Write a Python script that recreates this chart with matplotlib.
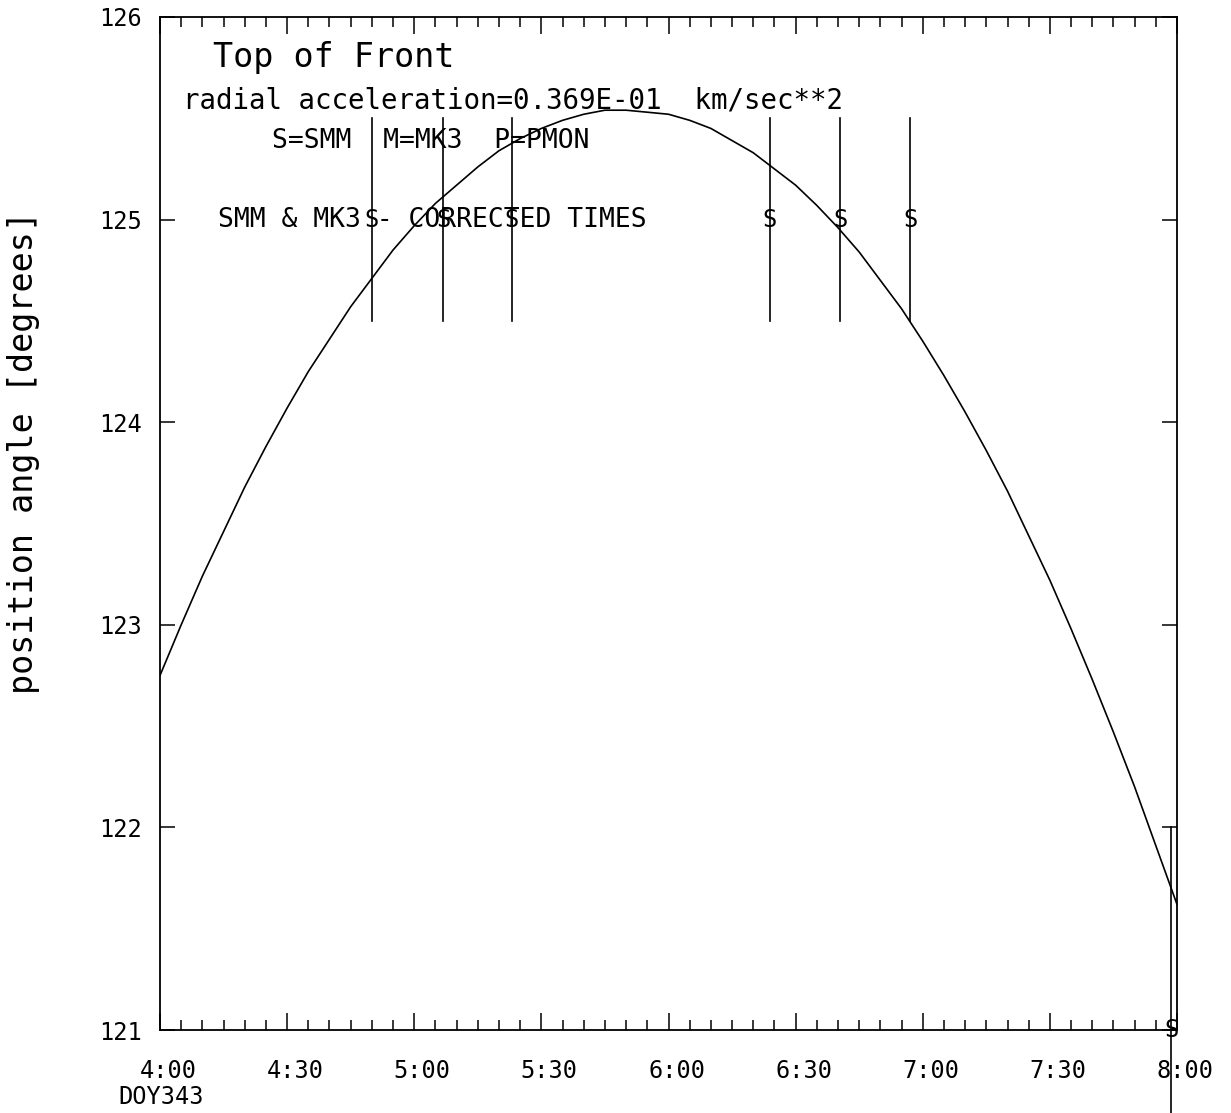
"""
Top of Front position angle vs time, DOY343, with SMM / MK3 observation marks.
"""

import matplotlib
matplotlib.use("Agg")
import matplotlib.pyplot as plt
import matplotlib.ticker as mticker
import matplotlib.transforms as mtransforms

MONO = "DejaVu Sans Mono"

# fitted curve, every 5 minutes, minutes after 4:00
curve_min = [0, 5, 10, 15, 20, 25, 30, 35, 40, 45, 50, 55, 60, 65, 70, 75,
             80, 85, 90, 95, 100, 105, 110, 115, 120, 125, 130, 135, 140,
             145, 150, 155, 160, 165, 170, 175, 180, 185, 190, 195, 200,
             205, 210, 215, 220, 225, 230, 235, 240]
curve_pa = [122.75, 123.00, 123.24, 123.46, 123.68, 123.88, 124.07, 124.25,
            124.41, 124.57, 124.71, 124.85, 124.97, 125.08, 125.17, 125.26,
            125.34, 125.40, 125.45, 125.49, 125.52, 125.54, 125.54, 125.53,
            125.52, 125.49, 125.45, 125.39, 125.33, 125.25, 125.17, 125.07,
            124.96, 124.84, 124.70, 124.56, 124.40, 124.23, 124.05, 123.86,
            123.66, 123.44, 123.22, 122.98, 122.73, 122.47, 122.20, 121.91,
            121.62]

# observation times (SMM), drawn as marker lines
obs_clock = ["4:50", "5:06.8", "5:23", "6:23.9", "6:40.5", "6:57", "7:58.6"]
obs_low = [124.5, 124.5, 124.5, 124.5, 124.5, 124.5, 120.0]
obs_high = [125.5, 125.5, 125.5, 125.5, 125.5, 125.5, 122.0]
obs_sym = ["S", "S", "S", "S", "S", "S", "S"]
obs_sym_y = [125.0, 125.0, 125.0, 125.0, 125.0, 125.0, 121.0]


def to_hours(s):
    h, m = s.split(":")
    return int(h) + float(m) / 60.0


def hm_fmt(x, _):
    h = int(x + 1e-9)
    m = int(round((x - h) * 60))
    return f"{h}:{m:02d}"


curve_t = [4.0 + m / 60.0 for m in curve_min]
obs_t = [to_hours(s) for s in obs_clock]

fig = plt.figure(figsize=(12.31, 11.13), dpi=100)
ax = fig.add_axes([160 / 1231, 83 / 1113, 1017 / 1231, 1013 / 1113])

ax.plot(curve_t, curve_pa, color="black", lw=1.2)

for t, lo, hi, sym, sy in zip(obs_t, obs_low, obs_high, obs_sym, obs_sym_y):
    ax.plot([t, t], [lo, hi], color="black", lw=1.2, clip_on=False)
    ax.text(t, sy, sym, family=MONO, fontsize=17, ha="center", va="center",
            clip_on=False)

ax.set_xlim(4.0, 8.0)
ax.set_ylim(121, 126)

ax.xaxis.set_major_locator(mticker.MultipleLocator(0.5))
ax.xaxis.set_minor_locator(mticker.MultipleLocator(1 / 12))
ax.xaxis.set_major_formatter(mticker.FuncFormatter(hm_fmt))
ax.yaxis.set_major_locator(mticker.MultipleLocator(1))
ax.yaxis.set_major_formatter(mticker.FormatStrFormatter("%d"))

ax.tick_params(axis="x", which="both", direction="in", top=True, bottom=True,
               width=1.1, pad=21)
ax.tick_params(axis="x", which="major", length=12)
ax.tick_params(axis="x", which="minor", length=7)
ax.tick_params(axis="y", which="major", direction="in", left=True, right=True,
               length=11, width=1.1, pad=13)

for sp in ax.spines.values():
    sp.set_linewidth(1.3)

ax.text(4.0 + 12.5 / 60, 125.80, "Top of Front", family=MONO, fontsize=24,
        va="center", ha="left")
ax.text(4.0 + 5.4 / 60, 125.59, "radial acceleration=0.369E-01  km/sec**2",
        family=MONO, fontsize=19.8, va="center", ha="left")
ax.text(4.0 + 26.4 / 60, 125.39, "S=SMM  M=MK3  P=PMON", family=MONO,
        fontsize=19, va="center", ha="left")
ax.text(4.0 + 13.7 / 60, 125.0, "SMM & MK3 - CORRECTED TIMES", family=MONO,
        fontsize=19, va="center", ha="left")

fig.text(24 / 1231, 1 - 452 / 1113, "position angle [degrees]", family=MONO,
         fontsize=24, rotation=90, ha="center", va="center")
fig.text(161 / 1231, 1 - 1097 / 1113, "DOY343", family=MONO, fontsize=17,
         ha="center", va="center")

# old plotter puts the time labels a little right of their ticks
fig.canvas.draw()
shift = mtransforms.ScaledTranslation(8 / 100, 0, fig.dpi_scale_trans)
for lbl in ax.get_xticklabels():
    lbl.set_transform(lbl.get_transform() + shift)
for lbl in ax.get_xticklabels() + ax.get_yticklabels():
    lbl.set_family(MONO)
    lbl.set_fontsize(17)

fig.savefig("out.png", dpi=100)
